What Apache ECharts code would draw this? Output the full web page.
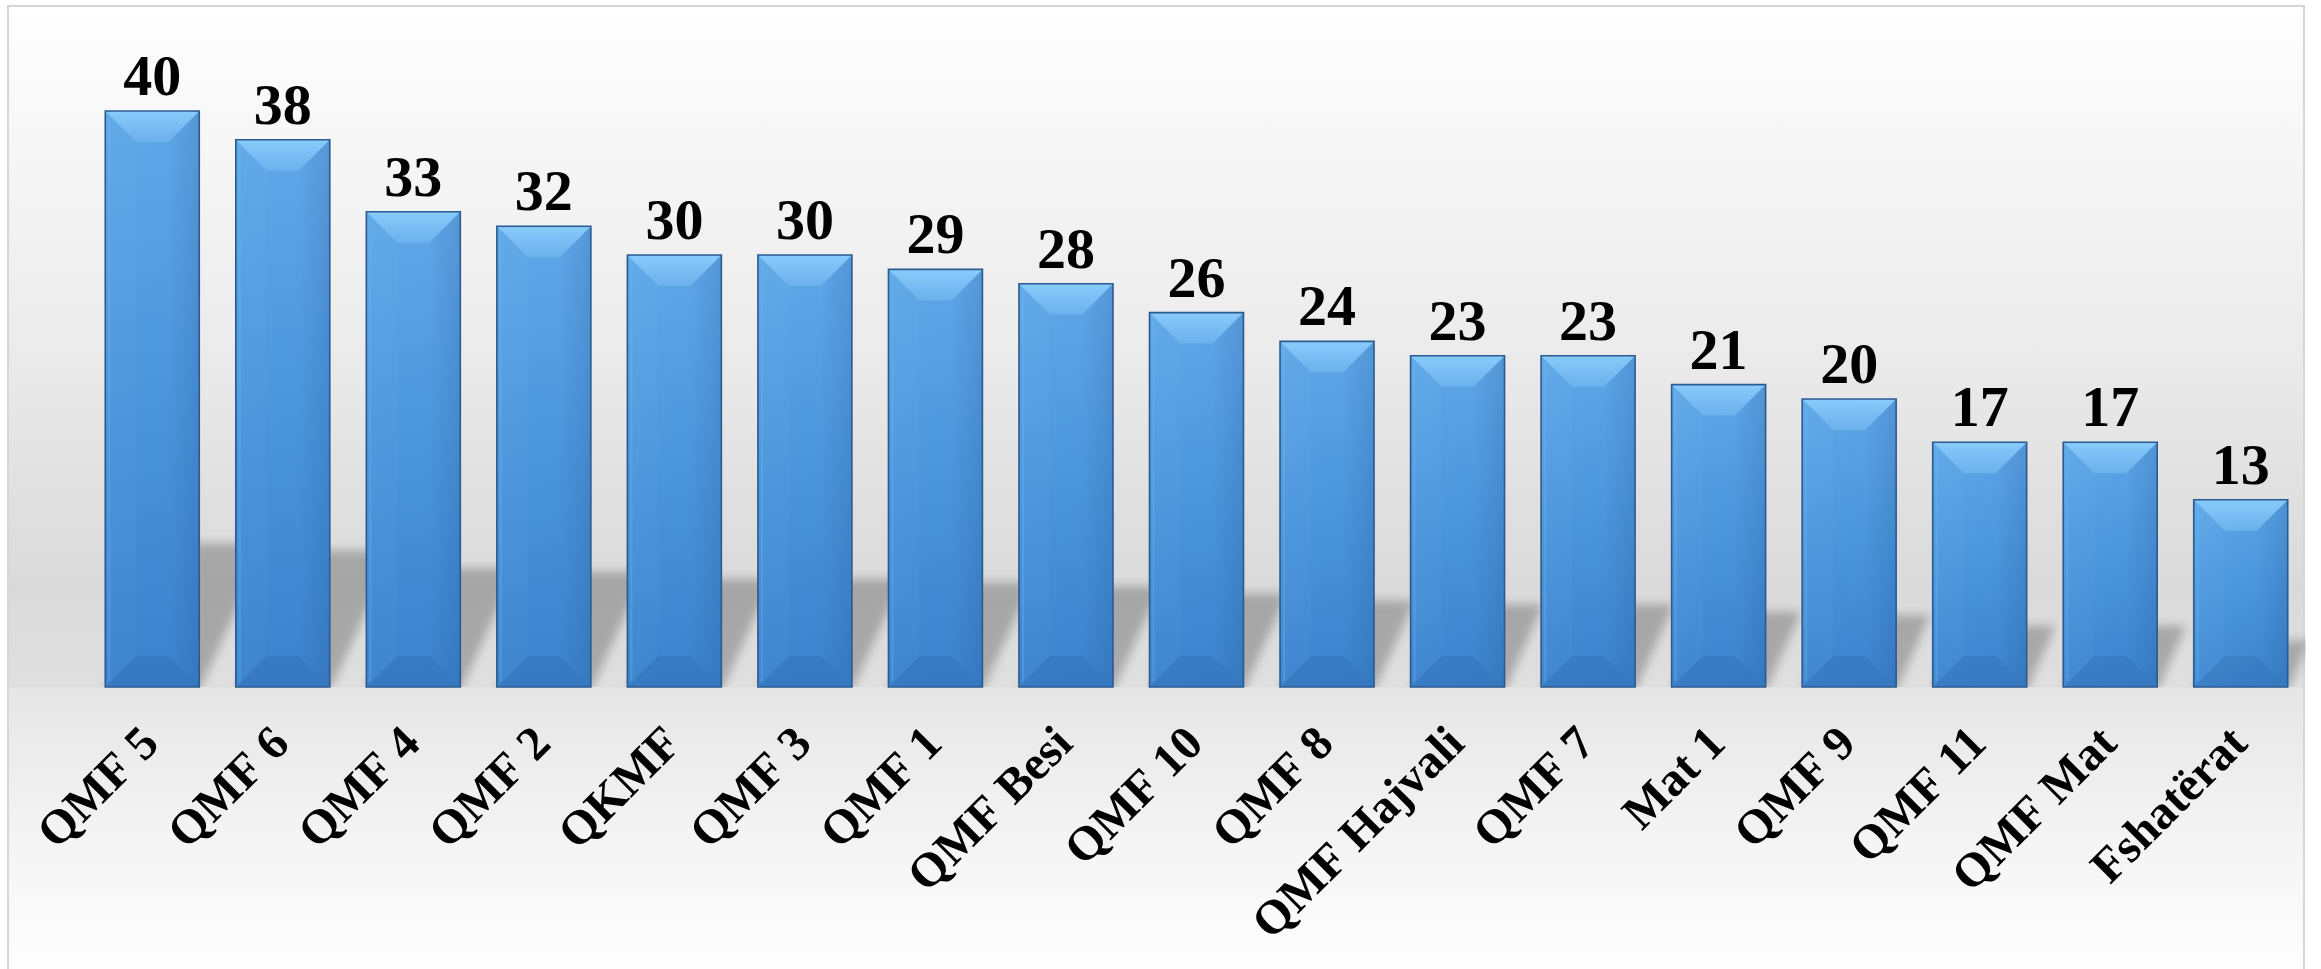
<!DOCTYPE html>
<html>
<head>
<meta charset="utf-8">
<script src="https://cdn.jsdelivr.net/npm/echarts@6/dist/echarts.min.js"></script>
<style>
html,body{margin:0;padding:0;background:#ffffff;}
#bg{position:absolute;left:7px;top:5px;width:2298px;height:970px;border:2px solid #d6d6d6;box-sizing:border-box;
 background:linear-gradient(to bottom,#ffffff 0px,#f9f9f9 90px,#ececec 330px,#dedede 520px,#dadada 580px,#dfdfdf 680px,#e6e6e6 681px,#f3f3f3 820px,#fefefe 962px);}
#c{position:absolute;left:0;top:0;width:2321px;height:969px;}
</style>
</head>
<body>
<div id="bg"></div>
<div id="c"></div>
<script>
const categories = ['QMF 5','QMF 6','QMF 4','QMF 2','QKMF','QMF 3','QMF 1','QMF Besi','QMF 10','QMF 8','QMF Hajvali','QMF 7','Mat 1','QMF 9','QMF 11','QMF Mat','Fshatërat'];
const values = [40,38,33,32,30,30,29,28,26,24,23,23,21,20,17,17,13];

const BAR_RATIO = 0.72;
const chart = echarts.init(document.getElementById('c'), null, {renderer:'canvas'});

function barBox(api){
  const i = api.value(0), v = api.value(1);
  const top = api.coord([i, v]);
  const base = api.coord([i, 0]);
  const bw = api.size([1, 0])[0] * BAR_RATIO;
  return {cx: top[0], x0: top[0]-bw/2, x1: top[0]+bw/2, y0: top[1], y1: base[1], v: v};
}

const shadowSeries = {
  type:'custom', z:1, silent:true, clip:true,
  data: values.map((v,i)=>[i,v]),
  renderItem(params, api){
    const b = barBox(api);
    const H = (b.y1-b.y0)*0.25, d = H*0.47, off = 4000;
    return {
      type:'polygon',
      shape:{points:[[b.x0-off,b.y1+4],[b.x1-off,b.y1+4],[b.x1+d-off,b.y1-H],[b.x0+d-off,b.y1-H]]},
      style:{fill:'#000',shadowBlur:10,shadowColor:'rgba(0,0,0,0.24)',shadowOffsetX:off,shadowOffsetY:0}
    };
  }
};

const bevelSeries = {
  type:'custom', z:3, silent:true, clip:false,
  data: values.map((v,i)=>[i,v]),
  renderItem(params, api){
    const b = barBox(api);
    const s = Math.min(31, (b.y1-b.y0)/2, (b.x1-b.x0)/2);
    return {type:'group', children:[
      {type:'polygon', shape:{points:[[b.x0,b.y0],[b.x0+s,b.y0+s],[b.x0+s,b.y1-s],[b.x0,b.y1]]},
       style:{fill:'rgba(255,255,255,0.025)'}},
      {type:'polygon', shape:{points:[[b.x1,b.y0],[b.x1-s,b.y0+s],[b.x1-s,b.y1-s],[b.x1,b.y1]]},
       style:{fill:new echarts.graphic.LinearGradient(0,0,1,0,[{offset:0,color:'rgba(10,40,90,0.0)'},{offset:1,color:'rgba(10,40,90,0.12)'}])}},
      {type:'polygon', shape:{points:[[b.x0,b.y0],[b.x1,b.y0],[b.x1-s,b.y0+s],[b.x0+s,b.y0+s]]},
       style:{fill:new echarts.graphic.LinearGradient(0,0,0,1,[{offset:0,color:'#88cbfb'},{offset:1,color:'rgba(110,178,238,0.9)'}])}},
      {type:'polygon', shape:{points:[[b.x0,b.y1],[b.x1,b.y1],[b.x1-s,b.y1-s],[b.x0+s,b.y1-s]]},
       style:{fill:'rgba(25,70,130,0.15)'}},
      {type:'line', shape:{x1:b.x0+4,y1:b.y0+6,x2:b.x0+4,y2:b.y1-6},
       style:{stroke:'rgba(110,185,250,0.30)',lineWidth:2}},
      {type:'rect', shape:{x:b.x0,y:b.y0,width:b.x1-b.x0,height:b.y1-b.y0},
       style:{fill:null,stroke:'#2b5b8e',lineWidth:1.6}},
      {type:'text', z2:10, style:{text:String(b.v), x:b.cx, y:b.y0-2, align:'center', verticalAlign:'bottom',
        fontSize:58, fontWeight:'bold', fontFamily:'Liberation Serif', fill:'#000'}}
    ]};
  }
};

chart.setOption({
  backgroundColor:'transparent',
  animation:false,
  grid:{left:87, right:15, top:111, bottom:282, containLabel:false},
  xAxis:{
    type:'category', data:categories,
    axisLine:{show:false}, axisTick:{show:false},
    axisLabel:{rotate:45, margin:50, interval:0, color:'#000', fontFamily:'Liberation Serif', fontWeight:'bold', fontSize:48}
  },
  yAxis:{type:'value', min:0, max:40, show:false, splitLine:{show:false}},
  series:[
    shadowSeries,
    {
      type:'bar', z:2, data:values, barCategoryGap:'28%', silent:true,
      itemStyle:{
        color:new echarts.graphic.LinearGradient(0,0,1,1,[
          {offset:0,color:'#60a8e8'},{offset:0.5,color:'#4b95dc'},{offset:1,color:'#3a82cc'}])
      },
      label:{show:false}
    },
    bevelSeries
  ]
});
</script>
</body>
</html>
